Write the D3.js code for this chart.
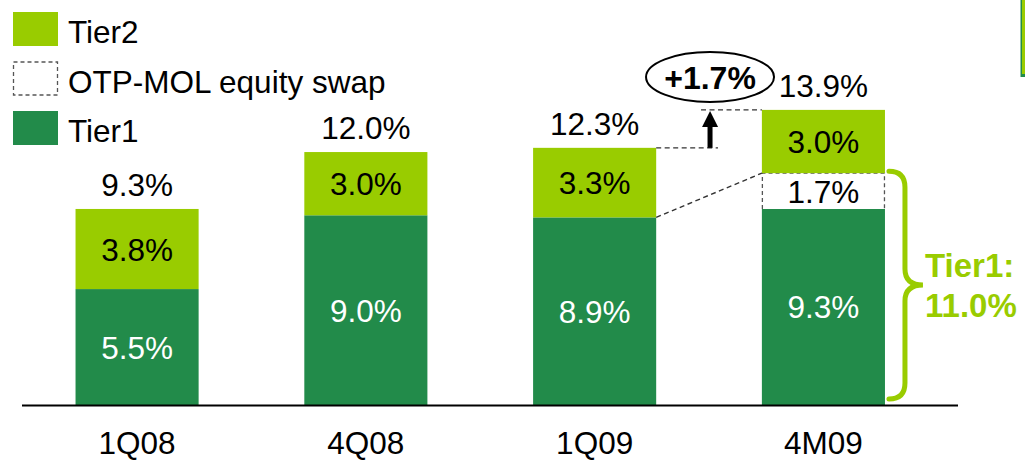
<!DOCTYPE html>
<html><head><meta charset="utf-8">
<script src="https://cdn.jsdelivr.net/npm/d3@7"></script>
<style>body{margin:0;background:#fff}svg{display:block;font-family:"Liberation Sans",Arial,sans-serif}</style>
</head><body><svg id="c" width="1025" height="462"></svg>
<script>
const categories = ["1Q08","4Q08","1Q09","4M09"];
const tier1 = [5.5, 9.0, 8.9, 9.3];
const swap = [0, 0, 0, 1.7];
const tier2 = [3.8, 3.0, 3.3, 3.0];
const totals = ["9.3%","12.0%","12.3%","13.9%"];
const legendLabels = ["Tier2","OTP-MOL equity swap","Tier1"];
const changeLabel = "+1.7%";
const tier1Total = ["Tier1:","11.0%"];

const C1 = "#228B4A", C2 = "#99CC00";
const FS = 31.5;
const svg = d3.select("#c");
const x = d3.scaleBand().domain(categories).range([22, 938.5]).paddingInner(0.462).paddingOuter(0.234);
const y = d3.scaleLinear().domain([0, 13.9]).range([405, 112]);
const bw = x.bandwidth();
const fmt = v => v.toFixed(1) + "%";

// stack
const rows = categories.map((c,i)=>({c, t1:tier1[i], sw:swap[i], t2:tier2[i], tot:totals[i]}));
rows.forEach(r=>{r.y0=0; r.y1=r.t1; r.y2=r.t1+r.sw; r.y3=r.y2+r.t2;});

const g = svg.append("g");
// tier1
g.selectAll(".t1").data(rows).join("rect").attr("x",d=>x(d.c)).attr("width",bw)
  .attr("y",d=>y(d.y1)).attr("height",d=>y(0)-y(d.y1)).attr("fill",C1);
// swap
rows.filter(d=>d.sw>0).forEach(d=>{
  g.append("rect").attr("x",x(d.c)).attr("width",bw).attr("y",y(d.y2)).attr("height",y(d.y1)-y(d.y2))
   .attr("fill","#fff");
  const p = d3.path();
  p.moveTo(x(d.c)+0.5, y(d.y1)); p.lineTo(x(d.c)+0.5, y(d.y2)); p.lineTo(x(d.c)+bw-0.5, y(d.y2)); p.lineTo(x(d.c)+bw-0.5, y(d.y1));
  g.append("path").attr("d",p.toString()).attr("fill","none").attr("stroke","#555").attr("stroke-width",1.3).attr("stroke-dasharray","4,3");
});
// tier2
g.selectAll(".t2").data(rows).join("rect").attr("x",d=>x(d.c)).attr("width",bw)
  .attr("y",d=>y(d.y3)).attr("height",d=>y(d.y2)-y(d.y3)).attr("fill",C2);

// labels
const lab = (xx,yy,t,col)=>svg.append("text").attr("x",xx).attr("y",yy).attr("text-anchor","middle")
  .attr("font-size",FS).attr("fill",col).text(t);
rows.forEach(d=>{
  const cx = x(d.c)+bw/2;
  lab(cx, (y(0)+y(d.y1))/2+11.5, fmt(d.t1), "#fff");
  if(d.sw>0) lab(cx, (y(d.y1)+y(d.y2))/2+11.5, fmt(d.sw), "#000");
  lab(cx, (y(d.y2)+y(d.y3))/2+11.5, fmt(d.t2), "#000");
  lab(cx, y(d.y3)-13, d.tot, "#000");
  lab(cx, 454, d.c, "#000");
});

// axis line
svg.append("line").attr("x1",22).attr("x2",958).attr("y1",405.5).attr("y2",405.5).attr("stroke","#000").attr("stroke-width",2);

// legend
const leg = [{t:legendLabels[0],f:C2},{t:legendLabels[1],f:"none"},{t:legendLabels[2],f:C1}];
leg.forEach((l,i)=>{
  const yy = 12 + i*49.5;
  const r = svg.append("rect").attr("x",13).attr("y",yy).attr("width",45).attr("height",34);
  if(l.f==="none") r.attr("x",13.5).attr("y",yy+0.5).attr("width",44).attr("height",33).attr("fill","#fff").attr("stroke","#555").attr("stroke-width",1.3).attr("stroke-dasharray","4,3");
  else r.attr("fill",l.f);
  svg.append("text").attr("x",68).attr("y",yy+31).attr("font-size",FS).attr("fill","#000").text(l.t);
});

// annotations: dashed guides between 1Q09 and 4M09
const r3 = rows[2], r4 = rows[3];
const xr3 = x(r3.c)+bw, xl4 = x(r4.c);
const ax = (xr3+xl4)/2 + 1;
const dash = {stroke:"#333","stroke-width":1.4,"stroke-dasharray":"5,3.5"};
const dl = (x1,y1,x2,y2)=>{const l=svg.append("line").attr("x1",x1).attr("y1",y1).attr("x2",x2).attr("y2",y2).attr("fill","none");
  Object.entries(dash).forEach(([k,v])=>l.attr(k,v));};
dl(xr3, y(r3.y3), ax+8, y(r3.y3));
dl(ax-9, y(r4.y3), xl4, y(r4.y3));
dl(xr3, y(r3.y1), xl4, y(r4.y1 + r4.sw));
// arrow
svg.append("rect").attr("x",ax-2.5).attr("y",y(r4.y3)+16).attr("width",5).attr("height",y(r3.y3)-y(r4.y3)-16).attr("fill","#000");
svg.append("path").attr("d",`M${ax-8},${y(r4.y3)+17} L${ax},${y(r4.y3)+1} L${ax+8},${y(r4.y3)+17} Z`).attr("fill","#000");
// ellipse
svg.append("ellipse").attr("cx",ax).attr("cy",77).attr("rx",64).attr("ry",25).attr("fill","#fff").attr("stroke","#000").attr("stroke-width",2);
svg.append("text").attr("x",ax).attr("y",88.5).attr("text-anchor","middle").attr("font-size",32).attr("font-weight","bold").text(changeLabel);

// brace
const bx = x(r4.c)+bw+4, bTop = y(r4.y2)-2, bBot = y(0)-6, bMid = 285, vx = bx+16, tipX = bx+34;
const bp = d3.path();
bp.moveTo(bx, bTop);
bp.quadraticCurveTo(vx, bTop, vx, bTop+16);
bp.lineTo(vx, bMid-16);
bp.quadraticCurveTo(vx, bMid, tipX, bMid);
bp.quadraticCurveTo(vx, bMid, vx, bMid+16);
bp.lineTo(vx, bBot-16);
bp.quadraticCurveTo(vx, bBot, bx, bBot);
svg.append("path").attr("d",bp.toString()).attr("fill","none").attr("stroke",C2).attr("stroke-width",5).attr("stroke-linecap","round");
svg.append("text").attr("x",925).attr("y",277).attr("font-size",33).attr("font-weight","bold").attr("fill",C2).text(tier1Total[0]);
svg.append("text").attr("x",925).attr("y",317).attr("font-size",33).attr("font-weight","bold").attr("fill",C2).text(tier1Total[1]);

// top-right edge decoration
svg.append("rect").attr("x",1020.5).attr("y",0).attr("width",4.5).attr("height",77).attr("fill",C1);
svg.append("rect").attr("x",1022).attr("y",0).attr("width",3).attr("height",74).attr("fill",C2);
</script></body></html>
